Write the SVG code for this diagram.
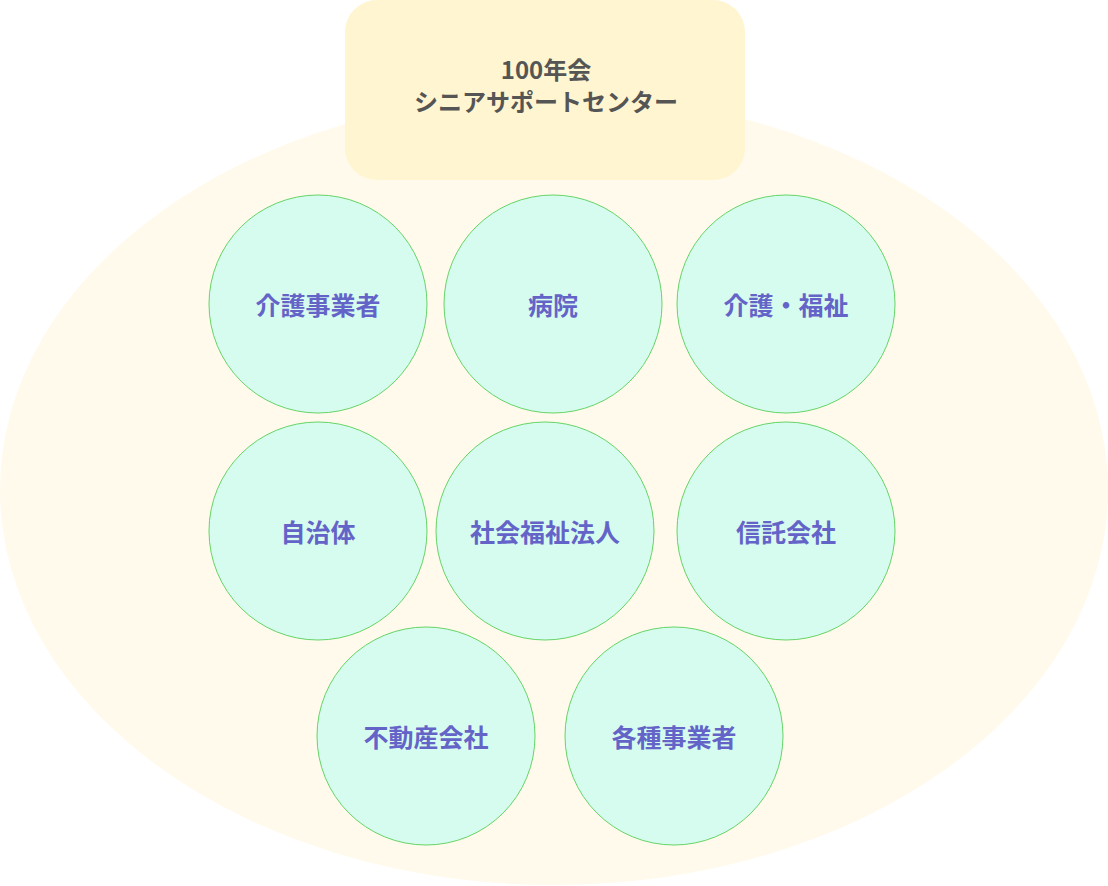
<svg xmlns="http://www.w3.org/2000/svg" width="1108" height="886" viewBox="0 0 1108 886">
<style>
.c{fill:#d6fcef;stroke:#66d466;stroke-width:1}
.t{font-family:"Noto Sans CJK JP",sans-serif;font-size:25px;font-weight:bold;fill:#6464c8;text-anchor:middle;dominant-baseline:central}
.h{font-family:"Noto Sans CJK JP",sans-serif;font-size:24px;font-weight:bold;fill:#555;text-anchor:middle}
</style>
<ellipse cx="554" cy="490" rx="554" ry="395" fill="#fffaec"/>
<g id="center"><rect x="345" y="0" width="400" height="180" rx="32" fill="#fff5d0"/>
<text class="h" x="546" y="79">100年会</text><text class="h" x="546" y="111">シニアサポートセンター</text></g>
<g id="connectors"/>
<g id="n1"><circle class="c" cx="318" cy="304" r="109"/><text class="t" x="318" y="304">介護事業者</text></g>
<g id="n2"><circle class="c" cx="553" cy="304" r="109"/><text class="t" x="553" y="304">病院</text></g>
<g id="n3"><circle class="c" cx="786" cy="304" r="109"/><text class="t" x="786" y="304">介護・福祉</text></g>
<g id="n4"><circle class="c" cx="318" cy="531" r="109"/><text class="t" x="318" y="531">自治体</text></g>
<g id="n5"><circle class="c" cx="545" cy="531" r="109"/><text class="t" x="545" y="531">社会福祉法人</text></g>
<g id="n6"><circle class="c" cx="786" cy="531" r="109"/><text class="t" x="786" y="531">信託会社</text></g>
<g id="n7"><circle class="c" cx="426" cy="736" r="109"/><text class="t" x="426" y="736">不動産会社</text></g>
<g id="n8"><circle class="c" cx="674" cy="736" r="109"/><text class="t" x="674" y="736">各種事業者</text></g>
</svg>
